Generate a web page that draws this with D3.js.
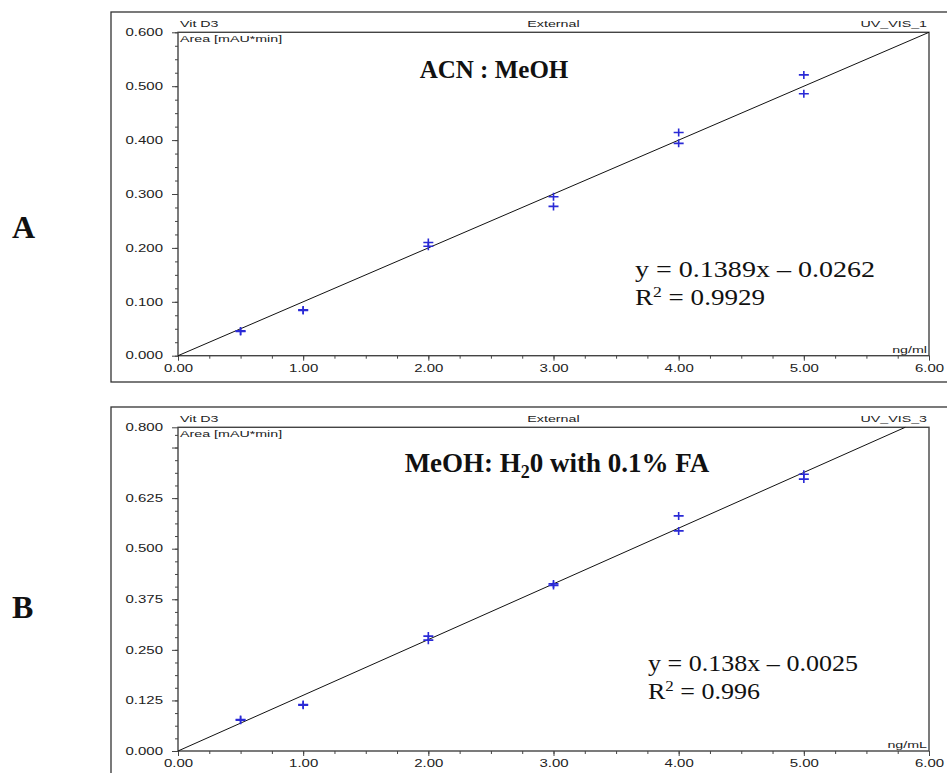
<!DOCTYPE html>
<html>
<head>
<meta charset="utf-8">
<script src="https://cdn.jsdelivr.net/npm/d3@7/dist/d3.min.js"></script>
<style>
  body { margin: 0; background: #fff; }
</style>
</head>
<body>
<div id="chart"></div>
<script>
// Calibration data (x = concentration, y = peak area)
const xTicks = [0, 1, 2, 3, 4, 5, 6];

const concA = [0.5, 0.5, 1, 1, 2, 2, 3, 3, 4, 4, 5, 5];
const areaA = [0.046, 0.045, 0.085, 0.084, 0.210, 0.203, 0.295, 0.277, 0.414, 0.394, 0.521, 0.486];
const yTicksA = [0, 0.1, 0.2, 0.3, 0.4, 0.5, 0.6];
const yLabelsA = ["0.000", "0.100", "0.200", "0.300", "0.400", "0.500", "0.600"];
const fitXA = [0, 6];
const fitYA = [0, 0.6];

const concB = [0.5, 0.5, 1, 1, 2, 2, 3, 3, 4, 4, 5, 5];
const areaB = [0.078, 0.076, 0.115, 0.113, 0.284, 0.274, 0.413, 0.409, 0.581, 0.544, 0.684, 0.672];
const yTicksB = [0, 0.125, 0.25, 0.375, 0.5, 0.625, 0.75, 0.8];
const yLabelsB = ["0.000", "0.125", "0.250", "0.375", "0.500", "0.625", "", "0.800"];
const fitXB = [0, 5.81];
const fitYB = [0, 0.8];

const width = 947, height = 773;
const left = 178, right = 929;
const sx = 1.5; // the screenshot text is stretched sideways

let svg = d3.select("#chart").append("svg")
    .attr("width", width)
    .attr("height", height);

function smallText(x, y, str, anchor) {
    svg.append("text")
        .attr("transform", `translate(${x},${y}) scale(${sx},1)`)
        .attr("text-anchor", anchor)
        .style("font-family", "'Liberation Sans', Arial, sans-serif")
        .style("font-size", "9.5px")
        .style("fill", "#222")
        .text(str);
}

function drawPanel(p) {
    const x = d3.scaleLinear().domain([0, 6]).range([left, right]);
    const y = d3.scaleLinear().domain([0, p.yMax]).range([p.bottom, p.top]);

    // outer frame
    svg.append("rect")
        .attr("x", 111).attr("y", p.frameTop)
        .attr("width", 900).attr("height", p.frameH)
        .attr("fill", "none").attr("stroke", "#333").attr("stroke-width", 1.3);

    // header band texts
    smallText(left + 2, p.top - 5, "Vit D3", "start");
    smallText((left + right) / 2, p.top - 5, "External", "middle");
    smallText(right - 2, p.top - 5, p.channel, "end");
    smallText(left + 2, p.top + 10, "Area  [mAU*min]", "start");
    smallText(right - 2, p.bottom - 3, p.unit, "end");

    // minor ticks
    svg.append("g")
        .attr("transform", `translate(0,${p.bottom})`)
        .call(d3.axisBottom(x).tickValues(d3.range(0, 6.001, 0.25)).tickSize(3).tickSizeOuter(0).tickFormat(""))
        .call(g => g.select(".domain").remove());
    svg.append("g")
        .attr("transform", `translate(${left},0)`)
        .call(d3.axisLeft(y).tickValues(d3.range(0, p.yMax + 1e-6, p.minorStep)).tickSize(3).tickSizeOuter(0).tickFormat(""))
        .call(g => g.select(".domain").remove());

    // major ticks + labels
    const xa = svg.append("g")
        .attr("transform", `translate(0,${p.bottom})`)
        .call(d3.axisBottom(x).tickValues(xTicks).tickSize(5).tickPadding(4).tickSizeOuter(0)
            .tickFormat(d3.format(".2f")));
    xa.select(".domain").remove();
    xa.selectAll("text")
        .attr("transform", `scale(${sx},1)`)
        .style("font-family", "'Liberation Sans', Arial, sans-serif")
        .style("font-size", "10px")
        .style("fill", "#222");

    const ya = svg.append("g")
        .attr("transform", `translate(${left},0)`)
        .call(d3.axisLeft(y).tickValues(p.yTicks).tickSize(6).tickPadding(4).tickSizeOuter(0)
            .tickFormat((d, i) => p.yLabels[i]));
    ya.select(".domain").remove();
    ya.selectAll("text")
        .attr("transform", `scale(${sx},1)`)
        .style("font-family", "'Liberation Sans', Arial, sans-serif")
        .style("font-size", "10px")
        .style("fill", "#222");
    svg.selectAll(".tick line").attr("stroke", "#444");

    // plot box
    svg.append("rect")
        .attr("x", x(0)).attr("y", y(p.yMax))
        .attr("width", x(6) - x(0)).attr("height", y(0) - y(p.yMax))
        .attr("fill", "none").attr("stroke", "#444").attr("stroke-width", 1.4);

    // regression line
    svg.append("line")
        .attr("x1", x(p.fitX[0])).attr("y1", y(p.fitY[0]))
        .attr("x2", x(p.fitX[1])).attr("y2", y(p.fitY[1]))
        .attr("stroke", "#111").attr("stroke-width", 1);

    // standards as blue crosses
    svg.selectAll(null)
        .data(p.conc.map((c, i) => ({c: c, a: p.area[i]})))
        .enter()
        .append("path")
        .attr("transform", d => `translate(${x(d.c)},${y(d.a)})`)
        .attr("d", "M-5,0H5M0,-4V4")
        .attr("stroke", "#2a2ad6")
        .attr("stroke-width", 1.6)
        .attr("fill", "none");

    // title inside the plot
    const t = svg.append("text")
        .attr("x", p.titleX).attr("y", p.titleY)
        .attr("text-anchor", "middle")
        .style("font-family", "'Liberation Serif', 'Times New Roman', serif")
        .style("font-weight", "bold")
        .style("font-size", p.titleSize)
        .style("fill", "#111");
    p.title(t);

    // equation
    svg.append("text")
        .attr("x", p.eqX).attr("y", p.eqY)
        .attr("textLength", p.eqLen).attr("lengthAdjust", "spacingAndGlyphs")
        .style("font-family", "'Liberation Serif', 'Times New Roman', serif")
        .style("font-size", "23px")
        .style("fill", "#111")
        .text(p.eq);
    const r = svg.append("text")
        .attr("x", p.eqX).attr("y", p.eqY + 28)
        .attr("textLength", p.r2Len).attr("lengthAdjust", "spacingAndGlyphs")
        .style("font-family", "'Liberation Serif', 'Times New Roman', serif")
        .style("font-size", "23px")
        .style("fill", "#111");
    r.append("tspan").text("R");
    r.append("tspan").attr("dy", -8).style("font-size", "15px").text("2");
    r.append("tspan").attr("dy", 8).text(" = " + p.r2);

    // panel letter
    svg.append("text")
        .attr("x", 12).attr("y", p.letterY)
        .style("font-family", "'Liberation Serif', 'Times New Roman', serif")
        .style("font-weight", "bold")
        .style("font-size", "32px")
        .style("fill", "#111")
        .text(p.letter);
}

drawPanel({
    frameTop: 12, frameH: 370, top: 32.3, bottom: 355.7, yMax: 0.6, minorStep: 0.025,
    yTicks: yTicksA, yLabels: yLabelsA, conc: concA, area: areaA, fitX: fitXA, fitY: fitYA,
    channel: "UV_VIS_1", unit: "ng/ml",
    titleX: 494, titleY: 78, titleSize: "25px",
    title: t => t.text("ACN : MeOH"),
    eq: "y = 0.1389x \u2013 0.0262", eqX: 635, eqY: 277, eqLen: 240, r2: "0.9929", r2Len: 130,
    letter: "A", letterY: 238
});

drawPanel({
    frameTop: 407, frameH: 400, top: 427.3, bottom: 751, yMax: 0.8, minorStep: 0.03125,
    yTicks: yTicksB, yLabels: yLabelsB, conc: concB, area: areaB, fitX: fitXB, fitY: fitYB,
    channel: "UV_VIS_3", unit: "ng/mL",
    titleX: 557, titleY: 472, titleSize: "27px",
    title: t => {
        t.append("tspan").text("MeOH: H");
        t.append("tspan").attr("dy", 6).style("font-size", "18px").text("2");
        t.append("tspan").attr("dy", -6).text("0 with 0.1% FA");
    },
    eq: "y = 0.138x \u2013 0.0025", eqX: 648, eqY: 671, eqLen: 210, r2: "0.996", r2Len: 112,
    letter: "B", letterY: 618
});
</script>
</body>
</html>
